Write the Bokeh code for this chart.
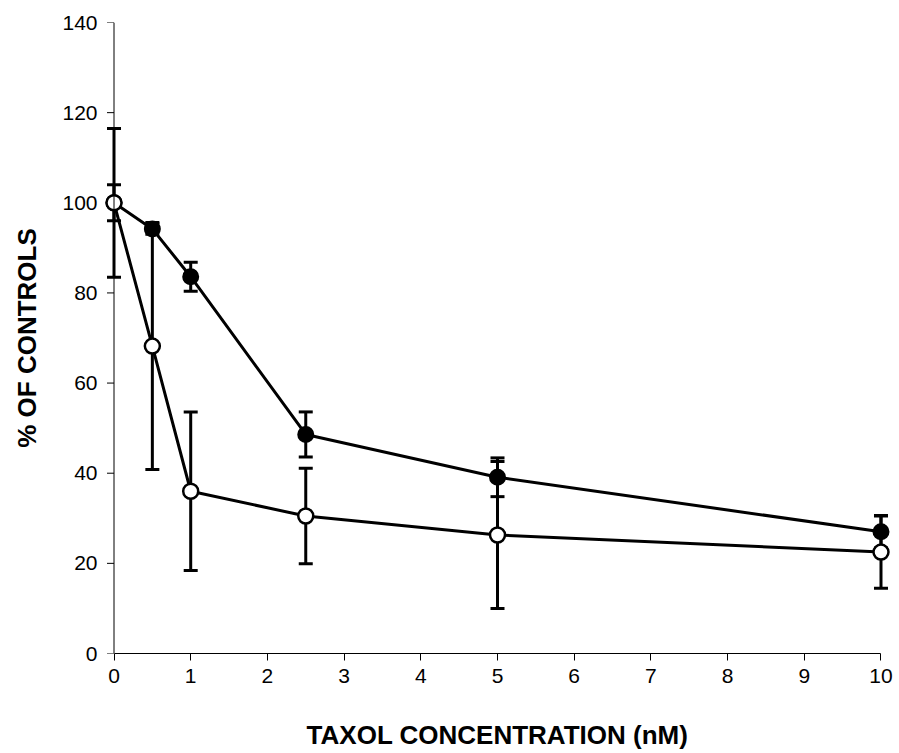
import numpy as np
from bokeh.plotting import figure
from bokeh.models import Range1d, ColumnDataSource, Whisker, TeeHead, Span, FixedTicker
from bokeh.embed import file_html
from bokeh.resources import INLINE

# Data
conc = [0, 0.5, 1, 2.5, 5, 10]
filled_mean = [100, 94.2, 83.6, 48.6, 39.1, 27.0]
filled_sd = [4.0, 1.2, 3.2, 5.0, 4.3, 3.6]
open_mean = [100, 68.2, 36.0, 30.5, 26.3, 22.5]
open_sd = [16.5, 27.4, 17.6, 10.6, 16.3, 8.0]
x_ticks = list(range(0, 11))
y_ticks = list(range(0, 141, 20))

FONT = "Liberation Sans"

p = figure(width=899, height=753,
           x_range=Range1d(-0.15, 10.15), y_range=Range1d(0, 140),
           output_backend="svg", toolbar_location=None,
           min_border_left=102, min_border_right=7,
           min_border_top=22, min_border_bottom=100)
p.outline_line_color = None
p.grid.visible = False
p.background_fill_color = "white"
p.border_fill_color = "white"

# x axis
xa = p.xaxis[0]
xa.ticker = FixedTicker(ticks=x_ticks)
xa.bounds = (0, 10)
xa.axis_line_color = "black"
xa.axis_line_width = 1
xa.major_tick_out = 7
xa.major_tick_in = 0
xa.minor_tick_line_color = None
xa.major_label_text_font = FONT
xa.major_label_text_font_size = "21px"
xa.major_label_text_color = "black"
xa.major_label_standoff = 8
xa.axis_label = "TAXOL CONCENTRATION (nM)"
xa.axis_label_text_font = FONT
xa.axis_label_text_font_style = "bold"
xa.axis_label_text_font_size = "26px"
xa.axis_label_text_color = "black"
xa.axis_label_standoff = 34

# y axis (line and ticks drawn at x = 0 below)
ya = p.yaxis[0]
ya.ticker = FixedTicker(ticks=y_ticks)
ya.axis_line_color = None
ya.major_tick_line_color = None
ya.major_tick_out = 0
ya.major_tick_in = 0
ya.minor_tick_line_color = None
ya.major_label_text_font = FONT
ya.major_label_text_font_size = "21px"
ya.major_label_text_color = "black"
ya.major_label_standoff = 5
ya.axis_label = "% OF CONTROLS"
ya.axis_label_text_font = FONT
ya.axis_label_text_font_style = "bold"
ya.axis_label_text_font_size = "26px"
ya.axis_label_text_color = "black"
ya.axis_label_standoff = 17

p.add_layout(Span(location=0, dimension="height", line_color="black", line_width=1))
p.ray(x=[0] * len(y_ticks), y=y_ticks, length=7, length_units="screen",
      angle=np.pi, line_color="black", line_width=1)

src_f = ColumnDataSource(dict(x=conc, y=filled_mean,
                              lo=[m - s for m, s in zip(filled_mean, filled_sd)],
                              hi=[m + s for m, s in zip(filled_mean, filled_sd)]))
src_o = ColumnDataSource(dict(x=conc, y=open_mean,
                              lo=[m - s for m, s in zip(open_mean, open_sd)],
                              hi=[m + s for m, s in zip(open_mean, open_sd)]))

for src in (src_f, src_o):
    w = Whisker(base="x", lower="lo", upper="hi", source=src,
                line_color="black", line_width=3,
                upper_head=TeeHead(size=14, line_width=3, line_color="black"),
                lower_head=TeeHead(size=14, line_width=3, line_color="black"))
    p.add_layout(w)

p.line("x", "y", source=src_f, line_color="black", line_width=3)
p.line("x", "y", source=src_o, line_color="black", line_width=3)
p.scatter("x", "y", source=src_f, marker="circle", size=15,
          fill_color="black", line_color="black", line_width=2)
p.scatter("x", "y", source=src_o, marker="circle", size=15,
          fill_color="white", line_color="black", line_width=2.5)

open("out.html", "w").write(file_html(p, INLINE))
